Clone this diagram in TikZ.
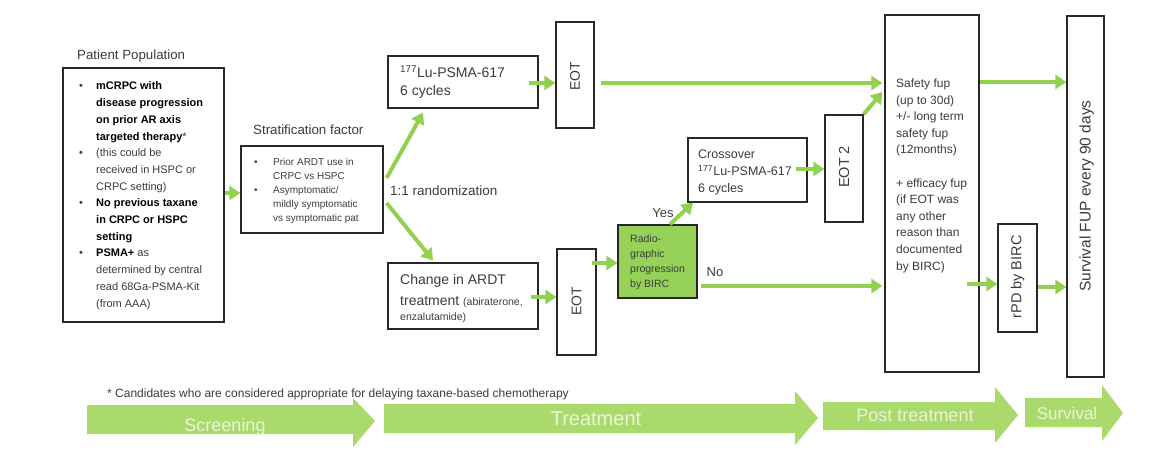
\documentclass[tikz,border=0pt]{standalone}
\usepackage{fontspec}
\setmainfont{Liberation Sans}
\usetikzlibrary{arrows.meta,calc}
\definecolor{arrc}{RGB}{146,208,80}
\definecolor{phase}{RGB}{170,218,108}
\definecolor{phasetxt}{RGB}{234,245,216}
\definecolor{boxc}{RGB}{40,40,40}
\definecolor{txt}{RGB}{60,60,60}
\definecolor{radiofill}{RGB}{150,210,88}
\newcommand{\fs}[2]{\fontsize{#1}{#2}\selectfont}
\begin{document}
\begin{tikzpicture}[x=1pt,y=-1pt,
  box/.style={draw=boxc,line width=1.3pt,inner sep=0pt,fill=white},
  garrow/.style={draw=arrc,line width=4pt,-{Triangle[length=11pt,width=14pt]}},
  lbl/.style={inner sep=0pt,text=txt},
  phaselbl/.style={text=phasetxt,inner sep=0pt}]
\useasboundingbox (0,0) rectangle (1154,468);
\fill[white] (0,0) rectangle (1154,468);

% boxes
\node[box,minimum width=161pt,minimum height=254pt] (pat) at (143.5,195) {};
\node[box,minimum width=142pt,minimum height=87pt] (strat) at (312,189.5) {};
\node[box,minimum width=150pt,minimum height=52pt] (lu) at (463,82) {};
\node[box,minimum width=150pt,minimum height=66pt] (ardt) at (463,296) {};
\node[box,minimum width=38pt,minimum height=106pt] (eot1) at (575,75) {};
\node[box,minimum width=39pt,minimum height=106pt] (eot3) at (576.5,302) {};
\node[box,draw=boxc,fill=radiofill,minimum width=79pt,minimum height=73pt] (radio) at (657.5,261.5) {};
\node[box,minimum width=119pt,minimum height=64pt] (cross) at (747.5,170) {};
\node[box,minimum width=38pt,minimum height=107pt] (eot2) at (844,168.5) {};
\node[box,minimum width=94pt,minimum height=357pt] (safety) at (932,193.5) {};
\node[box,minimum width=39pt,minimum height=108pt] (rpd) at (1017.5,278) {};
\node[box,minimum width=37pt,minimum height=361pt] (surv) at (1085.5,196.5) {};

% labels above boxes
\node[lbl,anchor=base west,font=\fs{13.3}{16}] (patlbl) at (77,60) {Patient Population};
\node[lbl,anchor=base west,font=\fs{13.3}{16}] (stratlbl) at (253,135) {Stratification factor};
\node[lbl,anchor=base west,font=\fs{13.5}{16}] (rand) at (390,195) {1:1 randomization};

% box texts
\node[lbl,anchor=base west,font=\fs{11}{16.7}] (pattxt) at (79,90) {%
\begin{tabular}[t]{@{}p{17pt}@{}l@{}}
\textbullet & \textcolor{black}{\textbf{mCRPC with}}\\
 & \textcolor{black}{\textbf{disease progression}}\\
 & \textcolor{black}{\textbf{on prior AR axis}}\\
 & \textcolor{black}{\textbf{targeted therapy}}*\\
\textbullet & (this could be\\
 & received in HSPC or\\
 & CRPC setting)\\
\textbullet & \textcolor{black}{\textbf{No previous taxane}}\\
 & \textcolor{black}{\textbf{in CRPC or HSPC}}\\
 & \textcolor{black}{\textbf{setting}}\\
\textbullet & \textcolor{black}{\textbf{PSMA+}} as\\
 & determined by central\\
 & read 68Ga-PSMA-Kit\\
 & (from AAA)
\end{tabular}};
\node[lbl,anchor=base west,font=\fs{10}{14}] (strattxt) at (254,165.5) {%
\begin{tabular}[t]{@{}p{19pt}@{}l@{}}
\textbullet & Prior ARDT use in\\
 & CRPC vs HSPC\\
\textbullet & Asymptomatic/\\
 & mildly symptomatic\\
 & vs symptomatic pat
\end{tabular}};
\node[lbl,anchor=base west,font=\fs{14}{18}] (lutxt) at (400,78) {%
\begin{tabular}[t]{@{}l@{}}
\textsuperscript{177}Lu-PSMA-617\\
6 cycles
\end{tabular}};
\node[lbl,anchor=base west,font=\fs{14}{21}] (ardttxt) at (400,284) {%
\begin{tabular}[t]{@{}l@{}}
Change in ARDT\\
treatment {\fs{10.5}{12}(abiraterone,}
\end{tabular}};
\node[lbl,anchor=base west,font=\fs{10.5}{12}] (ardttxtb) at (400,320) {enzalutamide)};
\node[lbl,anchor=base west,font=\fs{12.5}{17.5}] (crosstxt) at (698,158) {%
\begin{tabular}[t]{@{}l@{}}
Crossover\\
\textsuperscript{177}Lu-PSMA-617\\
6 cycles
\end{tabular}};
\node[lbl,anchor=base west,font=\fs{10.5}{15}] (radiotxt) at (630,242) {%
\begin{tabular}[t]{@{}l@{}}
Radio-\\
graphic\\
progression\\
by BIRC
\end{tabular}};
\node[lbl,anchor=base west,font=\fs{12}{16.6}] (safetytxt) at (896,87.5) {%
\begin{tabular}[t]{@{}l@{}}
Safety fup\\
(up to 30d)\\
+/- long term\\
safety fup\\
(12months)\\
\\
+ efficacy fup\\
(if EOT was\\
any other\\
reason than\\
documented\\
by BIRC)
\end{tabular}};
\node[lbl,rotate=90,font=\fs{14}{16}] (eot1txt) at (575,76) {EOT};
\node[lbl,rotate=90,font=\fs{14}{16}] (eot3txt) at (576.5,301.5) {EOT};
\node[lbl,rotate=90,font=\fs{14.5}{16}] (eot2txt) at (844,167) {EOT 2};
\node[lbl,rotate=90,font=\fs{14.5}{16}] (rpdtxt) at (1017.5,277) {rPD by BIRC};
\node[lbl,rotate=90,font=\fs{15.5}{16}] (survtxt) at (1086.5,196) {Survival FUP every 90 days};

% connectors
\draw[garrow] (pat.east |- 0,193) -- (strat.west |- 0,193);
\draw[garrow] ($(strat.east)+(3,-11.5)$) -- ($(lu.south)+(-40,4)$);
\draw[garrow] ($(strat.east)+(3,13.5)$) -- ($(ardt.north)+(-30,-2)$);
\draw[garrow] ($(lu.east)+(-10,1)$) -- ($(eot1.west)+(0,8)$);
\draw[garrow] ($(eot1.east)+(6,8)$) -- ($(safety.west)+(-2,-110.5)$);
\draw[garrow] ($(ardt.east)+(-8,1)$) -- ($(eot3.west)+(0,-5)$);
\draw[garrow] ($(eot3.east)+(-5,-39)$) -- ($(radio.west)+(0,1.5)$);
\draw[garrow] ($(radio.north)+(12.5,0)$) -- ($(cross.south)+(-54.5,0)$);
\draw[garrow] ($(cross.east)+(-12,-1)$) -- ($(eot2.west)+(0,0.5)$);
\draw[garrow] (eot2.north east) -- ($(safety.west)+(-2,-101.5)$);
\draw[garrow] ($(radio.east)+(3,24.5)$) -- ($(safety.west)+(-2,92.5)$);
\draw[garrow] ($(safety.east)+(-13,90.5)$) -- ($(rpd.west)+(0,6)$);
\draw[garrow] ($(safety.east)+(0,-111.5)$) -- ($(surv.west)+(0,-114.5)$);
\draw[garrow] ($(rpd.east)+(0,9)$) -- ($(surv.west)+(0,90.5)$);

\node[lbl,font=\fs{13}{16}] (yes) at (663,213) {Yes};
\node[lbl,font=\fs{13}{16}] (no) at (715,272) {No};

% footnote
\node[lbl,anchor=base west,font=\fs{12}{14}] (foot) at (107,397) {* Candidates who are considered appropriate for delaying taxane-based chemotherapy};

% phase arrows
\fill[phase] (87,405) -- (353,405) -- (353,398) -- (375,421) -- (353,447) -- (353,434) -- (87,434) -- cycle;
\fill[phase] (384,404) -- (795,404) -- (795,391) -- (818,418) -- (795,445) -- (795,433) -- (384,433) -- cycle;
\fill[phase] (823,402) -- (995,402) -- (995,387) -- (1018,415) -- (995,443) -- (995,430) -- (823,430) -- cycle;
\fill[phase] (1025,398) -- (1102,398) -- (1102,385) -- (1123,413) -- (1102,441) -- (1102,427) -- (1025,427) -- cycle;
\node[phaselbl,anchor=base,font=\fs{18}{20}] (scr) at (225,431) {Screening};
\node[phaselbl,anchor=base,font=\fs{20}{22}] (trt) at (596,425) {Treatment};
\node[phaselbl,anchor=base,font=\fs{18}{20}] (post) at (915,421) {Post treatment};
\node[phaselbl,anchor=base,font=\fs{17}{20}] (sur) at (1067,419) {Survival};
\end{tikzpicture}
\end{document}
